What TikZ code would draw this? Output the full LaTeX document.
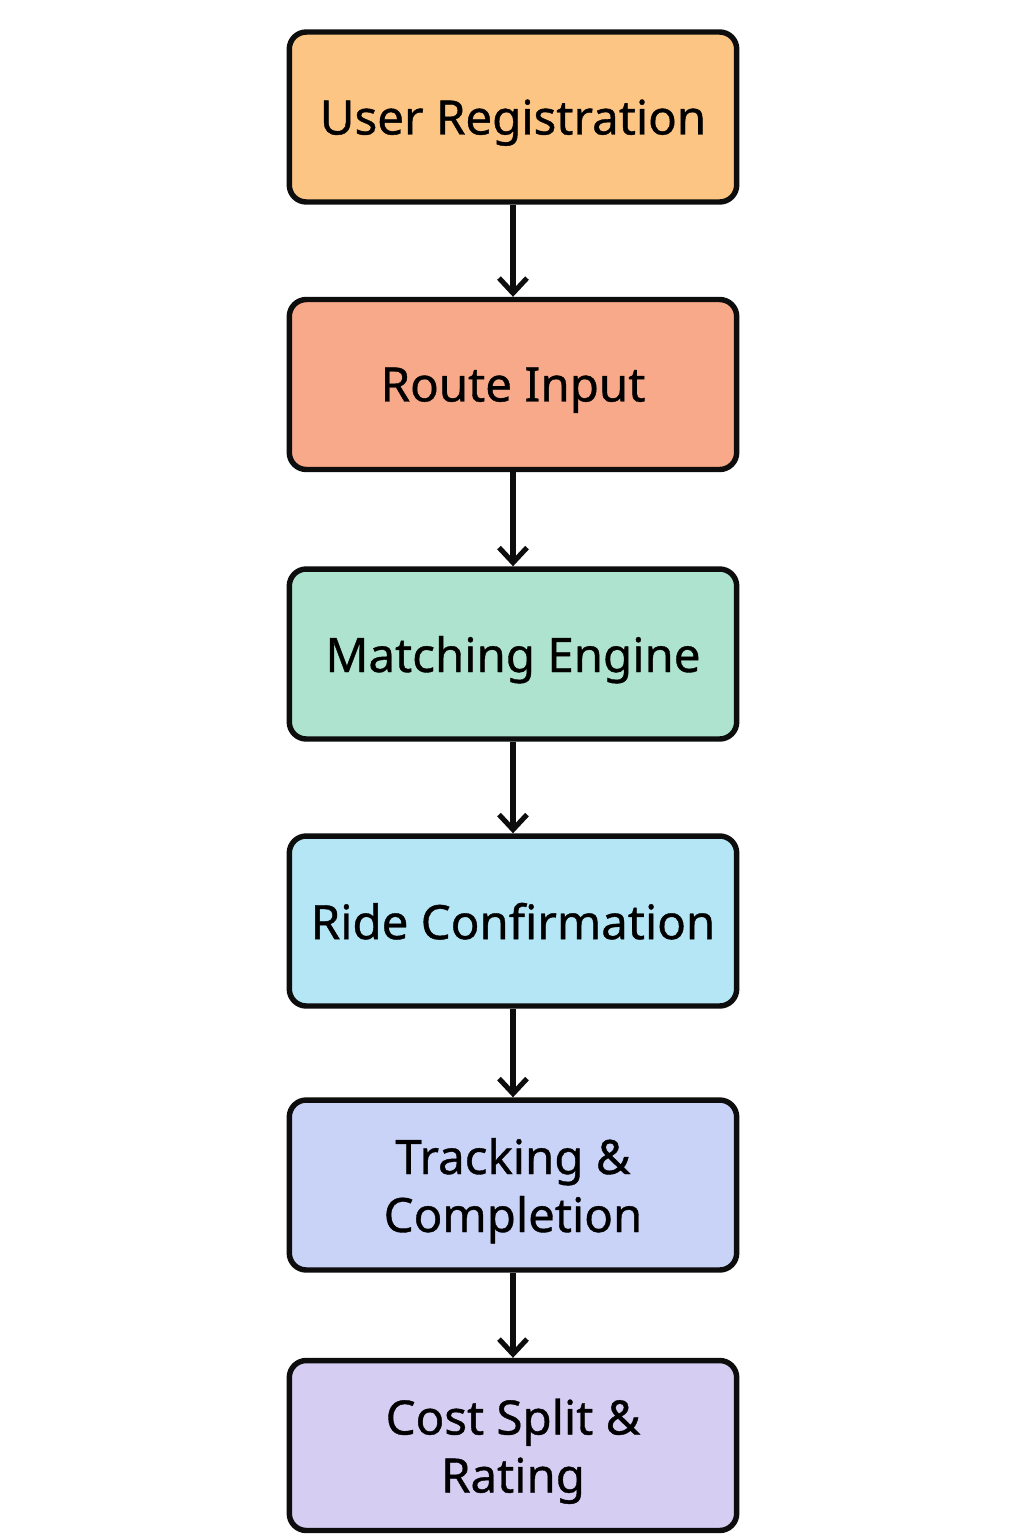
\documentclass[tikz,border=0pt]{standalone}
\usepackage{fontspec}
\setmainfont{Noto Sans}
\usetikzlibrary{arrows.meta}
\definecolor{c1}{HTML}{FDC583}
\definecolor{c2}{HTML}{F8A98A}
\definecolor{c3}{HTML}{AEE4CF}
\definecolor{c4}{HTML}{B4E6F6}
\definecolor{c5}{HTML}{C9D3F7}
\definecolor{c6}{HTML}{D5CDF2}
\begin{document}
\begin{tikzpicture}[x=0.02cm,y=-0.02cm,
  stepbox/.style={draw=black!95, line width=3.1pt, rounded corners=0.34cm,
    minimum width=8.95cm, minimum height=3.4cm, align=center, text depth=0pt,
    font=\fontsize{27}{33}\selectfont\addfontfeatures{FakeBold=0.8}, inner sep=0pt},
  flow/.style={draw=black!95, line width=2.9pt,
    -{Straight Barb[length=0.3cm,width=0.56cm,line width=2.9pt]}}]
\useasboundingbox (0,0) rectangle (1024,1536);
\node[stepbox, fill=c1] (a) at (513,117) {User Registration};
\node[stepbox, fill=c2] (b) at (513,384.5) {Route Input};
\node[stepbox, fill=c3] (c) at (513,654) {Matching Engine};
\node[stepbox, fill=c4] (d) at (513,921) {Ride Confirmation};
\node[stepbox, fill=c5] (e) at (513,1185) {Tracking \&\\Completion};
\node[stepbox, fill=c6] (f) at (513,1445.5) {Cost Split \&\\Rating};
\draw[flow] (a) -- (b);
\draw[flow] (b) -- (c);
\draw[flow] (c) -- (d);
\draw[flow] (d) -- (e);
\draw[flow] (e) -- (f);
\end{tikzpicture}
\end{document}
